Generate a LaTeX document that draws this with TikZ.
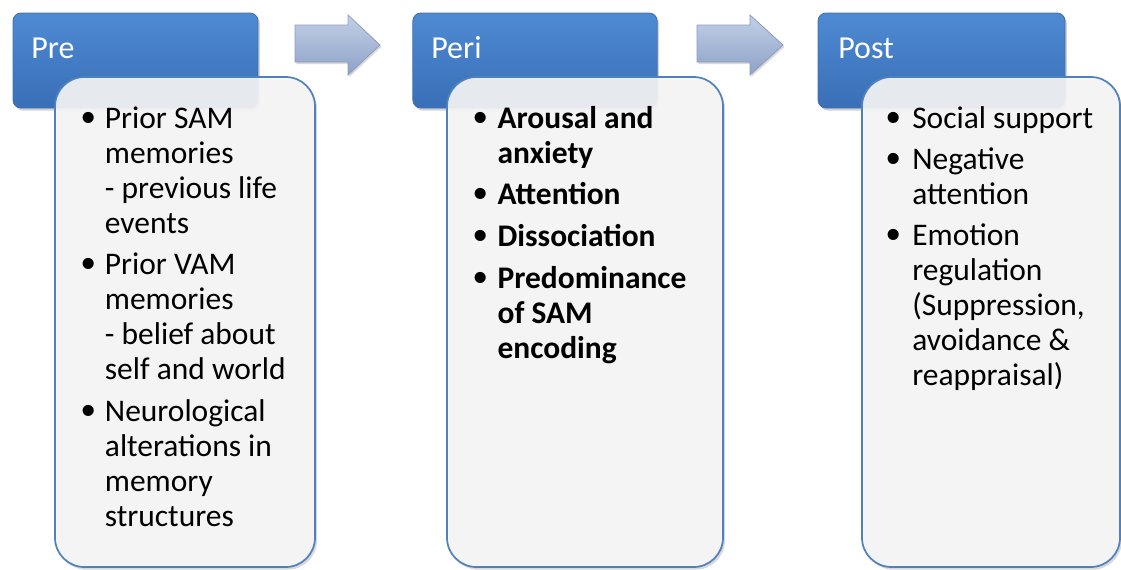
\documentclass[tikz,border=0pt]{standalone}
\usepackage{fontspec}
\usepackage{graphicx}
\setmainfont{Carlito}
\newfontfamily\bulletfont{Liberation Sans}
\newcommand{\bul}{\raisebox{-2.4pt}{\scalebox{1.3}{\bulletfont\mdseries\textbullet}}}
\usetikzlibrary{shadows}
\definecolor{hdtop}{HTML}{4E8AD3}
\definecolor{hdbot}{HTML}{396FB7}
\definecolor{hdline}{HTML}{3D6FB0}
\definecolor{cfill}{HTML}{F7F7F7}
\definecolor{cline}{HTML}{4F81BD}
\definecolor{artop}{HTML}{C3D0E6}
\definecolor{arbot}{HTML}{8DA2C8}
\definecolor{arline}{HTML}{8A9DC0}
\begin{document}
\begin{tikzpicture}[x=0.75pt,y=-0.75pt,
  headbox/.style={rounded corners=6pt, top color=hdtop, bottom color=hdbot, draw=hdline, line width=0.6pt,
    minimum height=71.25pt, inner sep=0pt,
    drop shadow={opacity=0.35, shadow xshift=1.5pt, shadow yshift=-2pt}},
  contentbox/.style={rounded corners=22pt, fill=cfill, fill opacity=0.9, draw=cline, line width=1.3pt,
    minimum height=367.5pt, inner sep=0pt,
    drop shadow={opacity=0.3, shadow xshift=1.5pt, shadow yshift=-2pt}},
  titletext/.style={anchor=base west, text=white, font=\fontsize{24}{28}\selectfont, inner sep=0pt},
  itemtext/.style={anchor=base west, text=black, font=\fontsize{23.6}{26.25}\selectfont, inner sep=0pt},
  arrowshape/.style={top color=artop, bottom color=arbot, draw=arline, line width=0.6pt,
    drop shadow={opacity=0.3, shadow xshift=1pt, shadow yshift=-1.5pt}}
]
\useasboundingbox (0,0) rectangle (1121,569);

% header boxes
\node[headbox, minimum width=183.75pt] (prehd) at (135.5,60.5) {};
\node[headbox, minimum width=183.25pt] (perihd) at (535,60.5) {};
\node[headbox, minimum width=185.25pt] (posthd) at (941.5,60.5) {};

% content boxes
\node[contentbox, minimum width=195pt] (prebox) at (185,322) {};
\node[contentbox, minimum width=207pt] (peribox) at (585,322) {};
\node[contentbox, minimum width=193.5pt] (postbox) at (991,322) {};

% arrows
\path[arrowshape] (295,25) -- (348,25) -- (348,15) -- (380,45) -- (348,75) -- (348,62) -- (295,62) -- cycle;
\path[arrowshape] (697,25) -- (750,25) -- (750,15) -- (783,45) -- (750,75) -- (750,62) -- (697,62) -- cycle;

% titles
\node[titletext] (pretitle) at (31,58) {Pre};
\node[titletext] (perititle) at (431,58) {Peri};
\node[titletext] (posttitle) at (838,58) {Post};

% items
\node[itemtext] (pretxt) at (81,128) {\begin{tabular}[t]{@{}p{17.75pt}@{}l@{}}
\bul & Prior SAM\\
 & memories\\
 & - previous life\\
 & events\\[5pt]
\bul & Prior VAM\\
 & memories\\
 & - belief about\\
 & self and world\\[5pt]
\bul & Neurological\\
 & alterations in\\
 & memory\\
 & structures
\end{tabular}};

\node[itemtext] (peritxt) at (473,128) {\bfseries\begin{tabular}[t]{@{}p{18.25pt}@{}l@{}}
\bul & Arousal and\\
 & anxiety\\[5pt]
\bul & Attention\\[5pt]
\bul & Dissociation\\[5pt]
\bul & Predominance\\
 & of SAM\\
 & encoding
\end{tabular}};

\node[itemtext] (posttxt) at (886,128) {\begin{tabular}[t]{@{}p{19.5pt}@{}l@{}}
\bul & Social support\\[4.5pt]
\bul & Negative\\
 & attention\\[5pt]
\bul & Emotion\\
 & regulation\\
 & (Suppression,\\
 & avoidance \&\\
 & reappraisal)
\end{tabular}};
\end{tikzpicture}
\end{document}
